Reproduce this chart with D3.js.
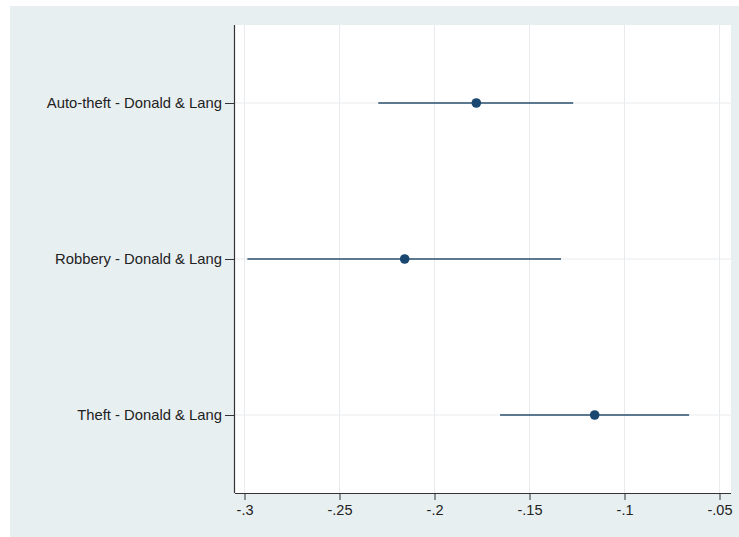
<!DOCTYPE html>
<html><head><meta charset="utf-8">
<script src="https://cdn.jsdelivr.net/npm/d3@7"></script>
<style>body{margin:0;background:#fff}svg{display:block}text{font-family:"Liberation Sans",Arial,Helvetica,sans-serif}</style>
</head><body>
<svg id="c" width="739" height="537"></svg>
<script>
const categories = ["Auto-theft - Donald & Lang", "Robbery - Donald & Lang", "Theft - Donald & Lang"];
const estimates = [-0.178, -0.2157, -0.1157];
const ciLow = [-0.2296, -0.2985, -0.1655];
const ciHigh = [-0.127, -0.1334, -0.066];
const xTicks = [-0.3, -0.25, -0.2, -0.15, -0.1, -0.05];
const xTickLabels = ["-.3", "-.25", "-.2", "-.15", "-.1", "-.05"];

const svg = d3.select("#c");
const W = 739, H = 537;
const plot = {l: 235, r: 731, t: 25, b: 493};
const navy = "#1a476f";

svg.append("rect").attr("x", 10).attr("y", 6).attr("width", W - 10).attr("height", H - 6).attr("fill", "#e8eff1");
svg.append("rect").attr("x", plot.l).attr("y", plot.t).attr("width", plot.r - plot.l).attr("height", plot.b - plot.t).attr("fill", "#fff");

const x = d3.scaleLinear().domain([-0.3, -0.05]).range([244.5, 719.5]);
const y = d3.scalePoint().domain(categories).range([plot.t, plot.b]).padding(0.5);

// gridlines
svg.append("g").selectAll("line").data(xTicks).join("line")
  .attr("x1", d => x(d)).attr("x2", d => x(d)).attr("y1", plot.t).attr("y2", plot.b)
  .attr("stroke", "#e8ebed").attr("stroke-width", 1);
svg.append("g").selectAll("line").data(categories).join("line")
  .attr("x1", plot.l).attr("x2", plot.r).attr("y1", d => y(d)).attr("y2", d => y(d))
  .attr("stroke", "#e8ebed").attr("stroke-width", 1);

// axes
const xAxis = d3.axisBottom(x).tickValues(xTicks).tickFormat((d, i) => xTickLabels[i]).tickSize(6).tickPadding(4);
const gx = svg.append("g").attr("transform", `translate(0,${plot.b})`).call(xAxis);
gx.select(".domain").attr("d", `M${plot.l},0.5H${plot.r}`).attr("stroke", "#333").attr("stroke-width", 1.2);
gx.selectAll(".tick line").attr("stroke", "#333").attr("y1", 0).attr("y2", 7);
gx.selectAll(".tick text").attr("font-size", 14.5).attr("fill", "#222").attr("dy", "0.85em")
  .attr("font-family", '"Liberation Sans",Arial,sans-serif');

const yAxis = d3.axisLeft(y).tickSize(9).tickPadding(3);
const gy = svg.append("g").attr("transform", `translate(${plot.l - 1},0)`).call(yAxis);
gy.select(".domain").attr("d", `M0.5,${plot.t}V${plot.b}`).attr("stroke", "#333").attr("stroke-width", 1.2);
gy.selectAll(".tick line").attr("stroke", "#333");
gy.selectAll(".tick text").attr("font-size", 14.8).attr("fill", "#222")
  .attr("font-family", '"Liberation Sans",Arial,sans-serif');

// CIs and points
const rows = categories.map((c, i) => ({c, e: estimates[i], lo: ciLow[i], hi: ciHigh[i]}));
svg.append("g").selectAll("line").data(rows).join("line")
  .attr("x1", d => x(d.lo)).attr("x2", d => x(d.hi)).attr("y1", d => y(d.c)).attr("y2", d => y(d.c))
  .attr("stroke", "#2a4f6e").attr("stroke-width", 1.4);
svg.append("g").selectAll("circle").data(rows).join("circle")
  .attr("cx", d => x(d.e)).attr("cy", d => y(d.c)).attr("r", 4.8).attr("fill", navy);
</script>
</body></html>
